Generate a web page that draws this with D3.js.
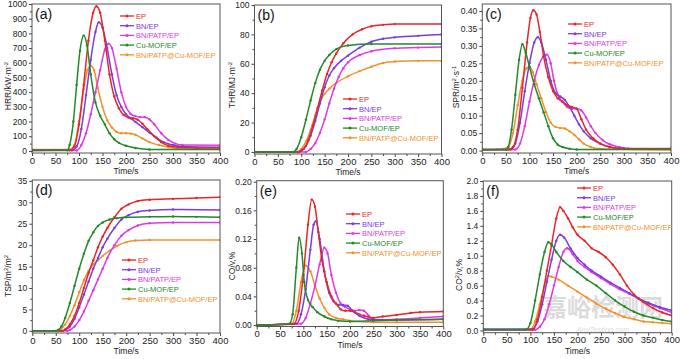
<!DOCTYPE html>
<html><head><meta charset="utf-8">
<script src="https://cdn.jsdelivr.net/npm/d3@7/dist/d3.min.js"></script>
<style>body{margin:0;background:#fff}svg{display:block;font-family:"Liberation Sans",Arial,sans-serif}</style>
</head><body><svg id="c" width="680" height="359"></svg>
<script>
const seriesNames = ["EP","BN/EP","BN/PATP/EP","Cu-MOF/EP","BN/PATP@Cu-MOF/EP"];
const timeTicks = [0,50,100,150,200,250,300,350,400];

// (a) HRR
const hrrEP = [[0,5],[80,5],[90,30],[100,180],[110,450],[120,750],[130,940],[137,985],[145,940],[155,750],[165,520],[175,370],[185,290],[195,245],[205,228],[215,222],[225,212],[235,185],[245,150],[260,100],[275,60],[290,35],[310,25],[350,20],[400,20]];
const hrrBN = [[0,5],[85,5],[95,30],[105,150],[115,380],[125,620],[135,810],[142,875],[150,840],[160,700],[170,520],[180,380],[190,300],[200,250],[210,222],[220,198],[235,162],[250,125],[265,90],[280,60],[300,40],[320,30],[400,25]];
const hrrPATP = [[0,2],[95,3],[105,40],[115,120],[125,250],[135,400],[145,550],[155,690],[163,730],[170,700],[180,560],[190,400],[200,300],[210,252],[220,237],[230,230],[240,230],[250,215],[260,182],[275,120],[290,75],[305,50],[320,40],[400,38]];
const hrrCu = [[0,5],[75,5],[80,40],[88,200],[95,450],[102,680],[110,785],[117,720],[125,520],[135,330],[145,240],[155,180],[165,120],[175,80],[185,55],[200,35],[220,20],[250,10],[400,10]];
const hrrMix = [[0,10],[80,10],[90,40],[100,200],[110,420],[118,550],[125,580],[132,550],[140,430],[150,300],[160,210],[170,160],[180,130],[190,120],[200,120],[210,118],[220,110],[235,85],[250,60],[270,40],[290,25],[320,15],[400,12]];
const hrrTicks = [0,100,200,300,400,500,600,700,800,900,1000];

// (b) THR
const thrEP = [[0,0],[95,0],[105,2],[115,8],[125,18],[135,30],[145,42],[155,53],[165,61],[175,67],[190,74],[210,80],[230,83.5],[250,85.5],[275,86.5],[300,87],[400,87]];
const thrBN = [[0,0],[92,0],[100,1],[110,4],[120,11],[130,21],[140,33],[150,44],[160,52],[170,57],[185,62],[200,65.5],[225,71],[250,75],[275,77],[300,78],[350,79],[400,80]];
const thrPATP = [[0,0],[110,0],[120,2],[130,6],[140,13],[150,22],[160,33],[170,43],[180,51],[190,57],[200,61],[225,66],[250,68.5],[300,70.5],[350,71],[400,71.5]];
const thrCu = [[0,0],[83,0],[90,2],[100,10],[110,22],[120,35],[130,47],[140,56],[150,62],[160,66],[175,70],[200,72.5],[250,73.5],[400,73.5]];
const thrMix = [[0,0],[92,0],[100,2],[110,7],[120,15],[130,25],[140,34],[150,39.5],[160,43],[175,47],[200,51.5],[225,55],[250,58],[275,60.5],[300,61.5],[350,62],[400,62]];
const thrTicks = [0,20,40,60,80,100];

// (c) SPR
const sprEP = [[0,0.003],[55,0.003],[65,0.01],[75,0.06],[85,0.18],[95,0.31],[102,0.38],[108,0.402],[115,0.39],[122,0.34],[130,0.27],[140,0.21],[150,0.17],[160,0.15],[170,0.14],[180,0.13],[190,0.125],[200,0.12],[210,0.09],[220,0.06],[235,0.035],[250,0.02],[270,0.01],[300,0.005],[400,0.005]];
const sprBN = [[0,0.003],[60,0.003],[70,0.02],[80,0.08],[90,0.17],[100,0.25],[110,0.31],[118,0.325],[125,0.31],[135,0.26],[145,0.2],[155,0.165],[165,0.155],[175,0.145],[185,0.125],[195,0.1],[205,0.075],[215,0.055],[230,0.035],[250,0.02],[270,0.01],[300,0.005],[400,0.005]];
const sprPATP = [[0,0.003],[70,0.003],[80,0.02],[90,0.07],[100,0.14],[110,0.2],[120,0.245],[130,0.27],[137,0.275],[145,0.25],[152,0.2],[160,0.16],[170,0.14],[180,0.125],[190,0.12],[200,0.12],[210,0.115],[220,0.095],[230,0.07],[240,0.05],[255,0.03],[270,0.018],[290,0.01],[310,0.006],[400,0.006]];
const sprCu = [[0,0.002],[50,0.002],[55,0.01],[62,0.06],[70,0.16],[78,0.26],[85,0.305],[92,0.28],[100,0.24],[110,0.19],[120,0.15],[130,0.11],[140,0.07],[150,0.035],[160,0.017],[170,0.01],[185,0.005],[200,0.003],[400,0.003]];
const sprMix = [[0,0.001],[30,0.003],[55,0.01],[65,0.05],[75,0.13],[85,0.2],[93,0.235],[100,0.24],[107,0.225],[115,0.19],[125,0.15],[135,0.11],[145,0.08],[155,0.068],[165,0.065],[175,0.063],[185,0.055],[195,0.045],[205,0.032],[215,0.02],[230,0.01],[250,0.005],[400,0.002]];
const sprTicks = [0,0.05,0.1,0.15,0.2,0.25,0.3,0.35,0.4];

// (d) TSP
const tspEP = [[0,0],[62,0],[70,0.3],[80,1.5],[90,3.5],[100,6.5],[110,10],[120,13.5],[130,16.5],[140,19.5],[150,22],[160,24],[175,26.5],[190,28.5],[205,29.5],[225,30.3],[250,30.6],[300,30.8],[350,31],[400,31.2]];
const tspBN = [[0,0],[65,0],[70,0.2],[80,1],[90,2.8],[100,5.5],[110,8.5],[120,11.5],[130,14.5],[140,17],[150,19.5],[160,21.5],[175,24],[190,26],[205,27],[225,27.8],[250,28.1],[300,28.3],[400,28.2]];
const tspPATP = [[0,0],[75,0],[80,0.2],[90,1],[100,2.5],[110,4.5],[120,7],[130,9.5],[140,12],[150,14.5],[160,17],[175,20],[190,22.2],[205,23.5],[225,24.6],[250,25.1],[300,25.3],[400,25.3]];
const tspCu = [[0,0],[50,0],[55,0.2],[62,1],[70,3],[80,6.5],[90,10.5],[100,14.5],[110,18],[120,21],[130,23],[140,24.5],[150,25.3],[165,26],[180,26.3],[200,26.5],[250,26.6],[300,26.7],[350,26.6],[400,26.5]];
const tspMix = [[0,0],[55,0],[60,0.3],[70,1.5],[80,3.5],[90,6],[100,9],[110,11.8],[120,14],[130,15.5],[140,16.5],[150,17.5],[165,18.7],[180,19.8],[200,20.7],[220,21.1],[250,21.2],[400,21.2]];
const tspTicks = [0,5,10,15,20,25,30,35];

// (e) CO
const coEP = [[0,0],[80,0.002],[90,0.02],[100,0.07],[110,0.14],[118,0.175],[125,0.165],[132,0.13],[140,0.09],[150,0.06],[160,0.04],[170,0.03],[180,0.022],[190,0.02],[200,0.02],[210,0.018],[230,0.013],[250,0.01],[270,0.012],[300,0.014],[330,0.017],[350,0.018],[400,0.019]];
const coBN = [[0,0],[85,0.002],[95,0.015],[105,0.05],[115,0.105],[122,0.14],[127,0.145],[135,0.12],[145,0.075],[155,0.045],[165,0.033],[175,0.028],[185,0.028],[195,0.027],[205,0.02],[220,0.013],[240,0.008],[260,0.007],[300,0.007],[400,0.008]];
const coPATP = [[0,0],[95,0.002],[105,0.01],[115,0.03],[125,0.055],[135,0.085],[145,0.108],[152,0.1],[160,0.07],[170,0.045],[180,0.03],[190,0.025],[200,0.022],[210,0.02],[220,0.021],[230,0.02],[240,0.013],[250,0.008],[270,0.007],[300,0.008],[350,0.01],[400,0.012]];
const coCu = [[0,0],[70,0.002],[77,0.015],[85,0.08],[91,0.122],[97,0.1],[102,0.06],[110,0.035],[120,0.025],[130,0.018],[145,0.012],[160,0.008],[175,0.006],[200,0.005],[250,0.006],[300,0.007],[400,0.008]];
const coMix = [[0,0],[75,0.002],[85,0.02],[95,0.06],[105,0.083],[115,0.075],[125,0.055],[135,0.037],[145,0.024],[155,0.015],[170,0.01],[185,0.008],[200,0.006],[250,0.004],[300,0.004],[400,0.004]];
const coTicks = [0,0.04,0.08,0.12,0.16,0.2];

// (f) CO2
const co2EP = [[0,0.01],[105,0.01],[115,0.15],[125,0.45],[135,0.8],[145,1.15],[155,1.5],[163,1.65],[170,1.6],[180,1.5],[190,1.38],[200,1.28],[215,1.2],[230,1.1],[245,1.05],[260,0.98],[275,0.88],[290,0.75],[305,0.6],[320,0.48],[340,0.38],[360,0.3],[380,0.24],[400,0.2]];
const co2BN = [[0,0.02],[105,0.02],[115,0.12],[125,0.35],[135,0.65],[145,0.95],[155,1.2],[163,1.28],[172,1.24],[185,1.1],[200,0.97],[215,0.88],[230,0.8],[250,0.72],[270,0.64],[290,0.57],[310,0.5],[330,0.43],[350,0.37],[375,0.31],[400,0.27]];
const co2PATP = [[0,0.01],[110,0.01],[120,0.05],[130,0.15],[140,0.35],[150,0.6],[160,0.85],[170,1.05],[178,1.1],[190,1.02],[200,0.93],[215,0.85],[230,0.78],[250,0.7],[270,0.62],[290,0.55],[310,0.49],[330,0.42],[350,0.36],[375,0.3],[400,0.24]];
const co2Cu = [[0,0.01],[90,0.01],[100,0.1],[110,0.4],[120,0.75],[130,1.05],[138,1.18],[145,1.15],[155,1.05],[170,0.93],[185,0.85],[200,0.78],[220,0.68],[240,0.6],[260,0.5],[280,0.4],[300,0.32],[320,0.25],[340,0.2],[360,0.17],[380,0.14],[400,0.12]];
const co2Mix = [[0,0.01],[100,0.01],[110,0.12],[120,0.35],[130,0.6],[138,0.73],[145,0.72],[160,0.68],[180,0.6],[200,0.52],[220,0.44],[240,0.36],[260,0.29],[280,0.23],[300,0.18],[320,0.15],[340,0.12],[360,0.11],[380,0.1],[400,0.09]];
const co2Ticks = [0,0.2,0.4,0.6,0.8,1.0,1.2,1.4,1.6,1.8,2.0];

const colors = ["#e8262a","#7a3ce0","#e038e6","#23892a","#f3902c"];
const svg = d3.select("#c");

const panels = [
  {label:"(a)", data:[hrrEP,hrrBN,hrrPATP,hrrCu,hrrMix], ticks:hrrTicks, fmt:d3.format("d"), yDom:[-14,1000],
   x0:32, x1:220, yt:4, yb:153, title:["HRR/kW·m","-2"], tx:8, ty:86, leg:[120,16]},
  {label:"(b)", data:[thrEP,thrBN,thrPATP,thrCu,thrMix], ticks:thrTicks, fmt:d3.format("d"), yDom:[-1.4,100],
   x0:254.5, x1:441.5, yt:5, yb:154, title:["THR/MJ·m","-2"], tx:232, ty:85, leg:[343,99]},
  {label:"(c)", data:[sprEP,sprBN,sprPATP,sprCu,sprMix], ticks:sprTicks, fmt:d3.format(".2f"), yDom:[-0.007,0.42],
   x0:482.3, x1:671, yt:4, yb:153, title:["SPR/m","2","·s","-1"], tx:456, ty:87, leg:[568,24]},
  {label:"(d)", data:[tspEP,tspBN,tspPATP,tspCu,tspMix], ticks:tspTicks, fmt:d3.format("d"), yDom:[-0.5,35.2],
   x0:32.3, x1:220, yt:180, yb:333, title:["TSP/m","2","/m","2"], tx:8, ty:276, leg:[122,260]},
  {label:"(e)", data:[coEP,coBN,coPATP,coCu,coMix], ticks:coTicks, fmt:d3.format(".2f"), yDom:[-0.002,0.2014],
   x0:256.7, x1:443.3, yt:180.7, yb:326.5, title:["CO/v,%"], tx:232, ty:266, leg:[346,214]},
  {label:"(f)", data:[co2EP,co2BN,co2PATP,co2Cu,co2Mix], ticks:co2Ticks, fmt:d3.format(".1f"), yDom:[-0.03,2.0],
   x0:483.3, x1:671.7, yt:181, yb:332.7, title:["CO","2","/v,%"], tx:459, ty:275, leg:[577,188]}
];

// watermark (behind)
const wm = svg.append("g").attr("opacity",0.3);
wm.append("text").attr("x",603).attr("y",316).attr("text-anchor","middle")
  .attr("font-family","Noto Sans CJK SC").attr("font-size",24).attr("font-weight","bold").attr("fill","#8a8a8a").text("嘉峪检测网");
wm.append("text").attr("x",603).attr("y",332).attr("text-anchor","middle")
  .attr("font-size",7.5).attr("font-style","italic").attr("fill","#8a8a8a").text("AnyTesting.com");

panels.forEach(p => {
  const g = svg.append("g");
  const x = d3.scaleLinear().domain([0,400]).range([p.x0,p.x1]);
  const y = d3.scaleLinear().domain(p.yDom).range([p.yb,p.yt]);

  // x axis
  const xa = g.append("g").attr("transform",`translate(0,${p.yb})`)
    .call(d3.axisBottom(x).tickValues(timeTicks).tickSize(3).tickPadding(1).tickFormat(d3.format("d")));
  xa.select(".domain").remove();
  xa.selectAll("text").attr("font-size",9.5).attr("fill","#222").attr("font-family","Liberation Sans, Arial");
  xa.selectAll("line").attr("stroke","#444");
  const xm = g.append("g").attr("transform",`translate(0,${p.yb})`)
    .call(d3.axisBottom(x).tickValues(d3.range(25,400,50)).tickSize(2).tickFormat(""));
  xm.select(".domain").remove(); xm.selectAll("line").attr("stroke","#444");

  // y axis
  const ya = g.append("g").attr("transform",`translate(${p.x0},0)`)
    .call(d3.axisLeft(y).tickValues(p.ticks).tickSize(3).tickPadding(2).tickFormat(p.fmt));
  ya.select(".domain").remove();
  ya.selectAll("text").attr("font-size",8.5).attr("fill","#222").attr("font-family","Liberation Sans, Arial");
  ya.selectAll("line").attr("stroke","#444");
  const step = p.ticks[1]-p.ticks[0];
  const minors = p.ticks.slice(0,-1).map(v=>v+step/2);
  const ym = g.append("g").attr("transform",`translate(${p.x0},0)`)
    .call(d3.axisLeft(y).tickValues(minors).tickSize(2).tickFormat(""));
  ym.select(".domain").remove(); ym.selectAll("line").attr("stroke","#444");

  // series
  const clipId = "clip"+p.label.replace(/[()]/g,"");
  g.append("clipPath").attr("id",clipId).append("rect")
    .attr("x",p.x0).attr("y",p.yt).attr("width",p.x1-p.x0).attr("height",p.yb-p.yt);
  const line = d3.line().x(d=>x(d[0])).y(d=>y(d[1])).curve(d3.curveMonotoneX);
  const sg = g.append("g").attr("clip-path",`url(#${clipId})`);
  [4,2,1,0,3].forEach(i => {
    const s = p.data[i];
    sg.append("path").attr("d",line(s)).attr("fill","none").attr("stroke",colors[i]).attr("stroke-width",1.5);
    sg.selectAll(null).data(s).enter().append("circle")
      .attr("cx",d=>x(d[0])).attr("cy",d=>y(d[1])).attr("r",1.2).attr("fill",colors[i]);
  });

  // frame
  g.append("rect").attr("x",p.x0).attr("y",p.yt).attr("width",p.x1-p.x0).attr("height",p.yb-p.yt)
    .attr("fill","none").attr("stroke","#555").attr("stroke-width",1);

  // axis titles
  g.append("text").attr("x",(p.x0+p.x1)/2).attr("y",p.yb+21).attr("text-anchor","middle")
    .attr("font-size",8.5).attr("fill","#222").text("Time/s");
  const yt = g.append("text").attr("transform",`translate(${p.tx+3},${p.ty}) rotate(-90)`)
    .attr("text-anchor","middle").attr("font-size",8.5).attr("fill","#222");
  p.title.forEach((t,k)=>{
    const sup = k%2===1;
    yt.append("tspan").text(t).attr("font-size",sup?6:8.5).attr("dy",sup?-3.5:(k>0?3.5:0));
  });

  // panel label
  g.append("text").attr("x",p.x0+3).attr("y",p.yt+15).attr("font-size",14).attr("fill","#111").text(p.label);

  // legend
  seriesNames.forEach((n,i)=>{
    const ly = p.leg[1] + i*9.7;
    g.append("line").attr("x1",p.leg[0]).attr("x2",p.leg[0]+14).attr("y1",ly).attr("y2",ly)
      .attr("stroke",colors[i]).attr("stroke-width",1.3);
    g.append("circle").attr("cx",p.leg[0]+7).attr("cy",ly).attr("r",1.5).attr("fill",colors[i]);
    g.append("text").attr("x",p.leg[0]+16).attr("y",ly+2.8).attr("font-size",7.5).attr("fill",colors[i]).text(n);
  });
});
</script></body></html>
